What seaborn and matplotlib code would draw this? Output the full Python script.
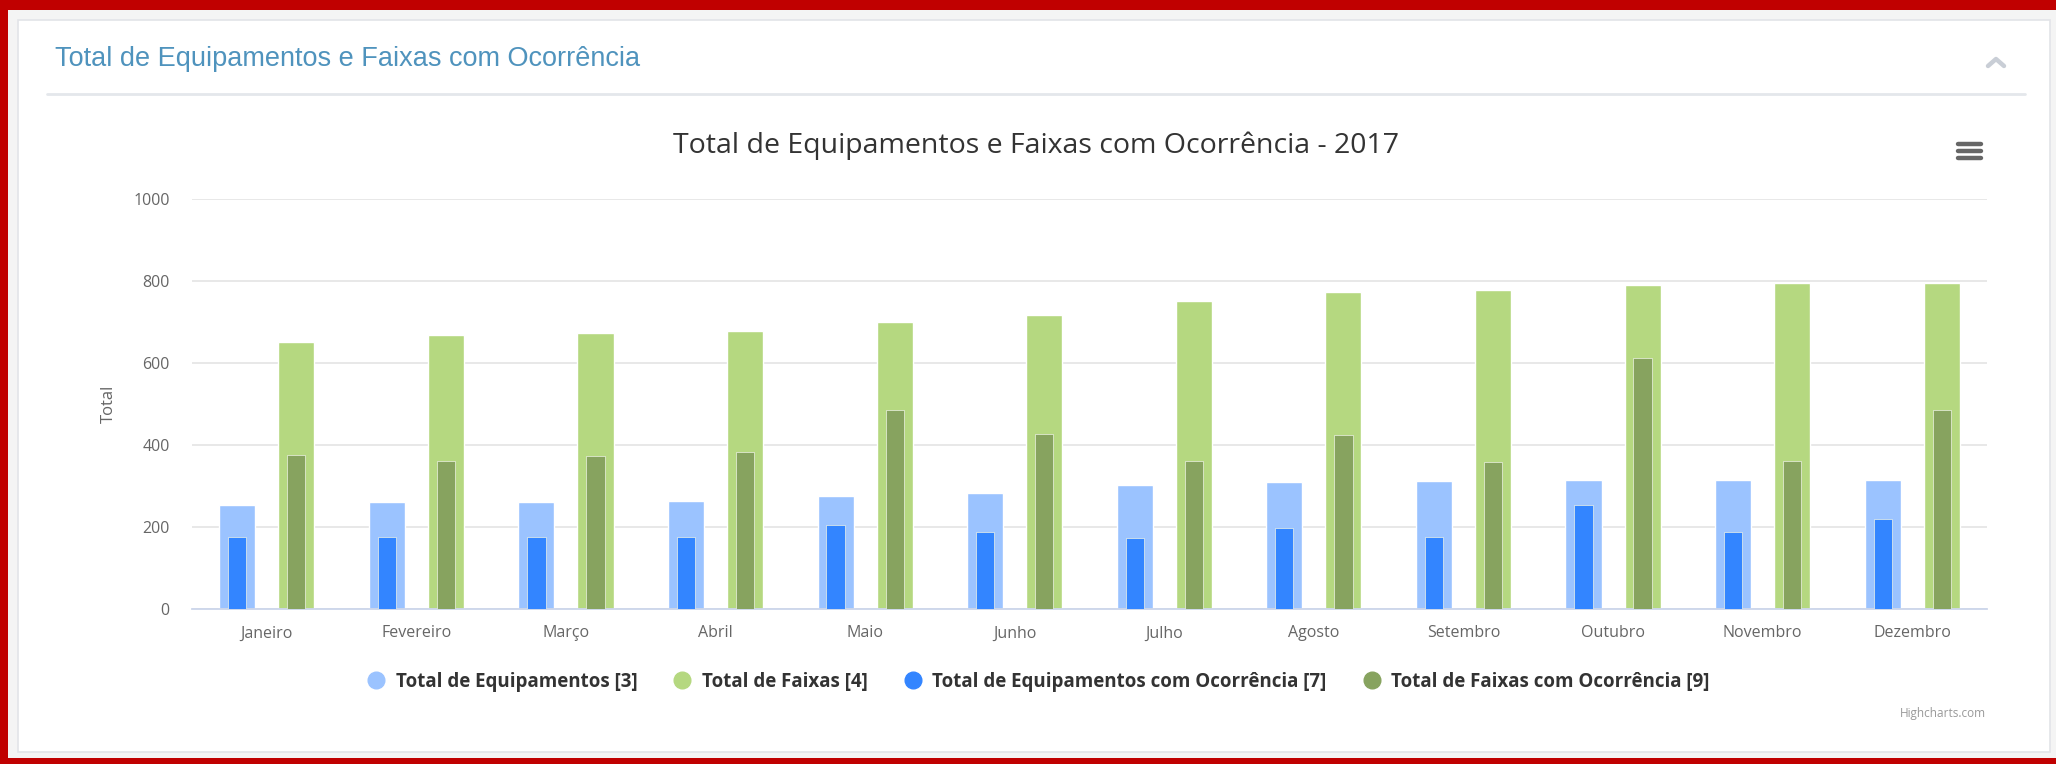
import numpy as np
import pandas as pd
import matplotlib
matplotlib.use("Agg")
import matplotlib.pyplot as plt
from matplotlib.patches import Rectangle
from matplotlib.lines import Line2D
import seaborn as sns


MONTHS = ["Janeiro", "Fevereiro", "Março", "Abril", "Maio", "Junho",
          "Julho", "Agosto", "Setembro", "Outubro", "Novembro", "Dezembro"]
TOTAL_EQUIP = [252, 260, 260, 264, 275, 282, 301, 309, 312, 315, 315, 315]
TOTAL_FAIXAS = [650, 668, 672, 679, 701, 716, 750, 772, 779, 790, 795, 795]
EQUIP_OCORR = [176, 176, 176, 176, 205, 186, 172, 198, 176, 252, 186, 220]
FAIXAS_OCORR = [376, 361, 372, 383, 486, 427, 361, 424, 357, 613, 361, 486]

SERIES_NAMES = ["Total de Equipamentos [3]", "Total de Faixas [4]",
                "Total de Equipamentos com Ocorrência [7]", "Total de Faixas com Ocorrência [9]"]
COLORS = ["#9BC3FF", "#B5D880", "#3385FF", "#87A35F"]

W, H = 2056, 764


def fx(px):
    return px / W


def fy(py):
    return 1 - py / H


# --------- data frames --------- #
df_total = pd.DataFrame({
    "mes": MONTHS * 2,
    "serie": [SERIES_NAMES[0]] * 12 + [SERIES_NAMES[1]] * 12,
    "valor": TOTAL_EQUIP + TOTAL_FAIXAS,
})
df_ocorr = pd.DataFrame({
    "mes": MONTHS * 2,
    "serie": [SERIES_NAMES[2]] * 12 + [SERIES_NAMES[3]] * 12,
    "valor": EQUIP_OCORR + FAIXAS_OCORR,
})

sns.set_style("white")
plt.rcParams["font.family"] = ["Open Sans", "DejaVu Sans"]

fig = plt.figure(figsize=(W / 100, H / 100), dpi=100)
fig.patch.set_facecolor("#f4f4f4")

# --------- page frame --------- #
fig.patches.append(Rectangle((0, fy(H)), fx(W), 1, transform=fig.transFigure,
                             facecolor="#c00000", edgecolor="none", zorder=-5))
fig.patches.append(Rectangle((fx(8), fy(758)), fx(W - 8), (758 - 10) / H, transform=fig.transFigure,
                             facecolor="#f4f4f4", edgecolor="none", zorder=-4))
fig.patches.append(Rectangle((fx(18), fy(752)), fx(2050 - 18), (752 - 20) / H, transform=fig.transFigure,
                             facecolor="white", edgecolor="#e2e4e8", linewidth=1.2, zorder=-3))

# header of the panel
fig.text(fx(55), fy(59), "Total de Equipamentos e Faixas com Ocorrência",
         family=["Liberation Sans", "DejaVu Sans"], fontsize=19.5, color="#4f93bd", va="center", ha="left")
fig.add_artist(Line2D([fx(47), fx(2025)], [fy(94), fy(94)], color="#e4e7eb", linewidth=2))
fig.add_artist(Line2D([fx(1988), fx(1996), fx(2004)], [fy(66), fy(59), fy(66)],
                      color="#c9ced6", linewidth=3.2, solid_capstyle="round"))

# hamburger menu
for yy in [144, 151, 158]:
    fig.add_artist(Line2D([fx(1958), fx(1981)], [fy(yy), fy(yy)], color="#666666",
                          linewidth=3.2, solid_capstyle="round"))

# --------- chart --------- #
ax = fig.add_axes([fx(192), fy(608.7), fx(1987 - 192), (608.7 - 199) / H])

sns.barplot(data=df_total, x="mes", y="valor", hue="serie", palette=COLORS[:2], saturation=1,
            width=0.79, gap=0.39, errorbar=None, edgecolor="white", linewidth=1,
            legend=False, ax=ax, zorder=2)
sns.barplot(data=df_ocorr, x="mes", y="valor", hue="serie", palette=COLORS[2:], saturation=1,
            width=0.79, gap=0.69, errorbar=None, edgecolor="#eef3e6", linewidth=0.5,
            legend=False, ax=ax, zorder=3)

ax.set_xlim(-0.5, 11.5)
ax.set_ylim(0, 1000)
ax.set_yticks(range(0, 1001, 200))
ax.yaxis.grid(True, color="#e6e6e6", linewidth=1.3)
ax.xaxis.grid(False)
ax.set_axisbelow(True)
for side in ["left", "right", "top"]:
    ax.spines[side].set_visible(False)
ax.spines["bottom"].set_color("#ccd6eb")
ax.spines["bottom"].set_linewidth(1.3)

ax.set_xticks(range(12))
ax.set_xticklabels(MONTHS)
ax.set_xticks(np.arange(-0.5, 12, 1), minor=True)
ax.tick_params(axis="x", which="major", length=0, pad=12, labelsize=11.5, labelcolor="#666666")
ax.tick_params(axis="x", which="minor", length=11, width=1.2, color="#ccd6eb")
ax.tick_params(axis="y", length=0, pad=16, labelsize=11.5, labelcolor="#666666")

ax.set_xlabel("")
ax.set_ylabel("Total", fontsize=12, color="#666666", labelpad=12)

fig.text(fx(1036), fy(146), "Total de Equipamentos e Faixas com Ocorrência - 2017",
         fontsize=20.5, color="#333333", ha="center", va="center")

# --------- legend --------- #
handles = [Line2D([], [], linestyle="none", marker="o", markersize=12,
                  markerfacecolor=c, markeredgecolor=c) for c in COLORS]
leg = fig.legend(handles, SERIES_NAMES, loc="center", bbox_to_anchor=(fx(1038), fy(682)),
                 ncol=4, frameon=False, handlelength=1, handletextpad=0.55, columnspacing=1.9,
                 prop={"weight": "bold", "size": 13.5})
for t in leg.get_texts():
    t.set_color("#333333")

fig.text(fx(1986), fy(714), "Highcharts.com", fontsize=8.5, color="#999999", ha="right", va="center")

fig.savefig("out.png", dpi=100, facecolor=fig.get_facecolor())
